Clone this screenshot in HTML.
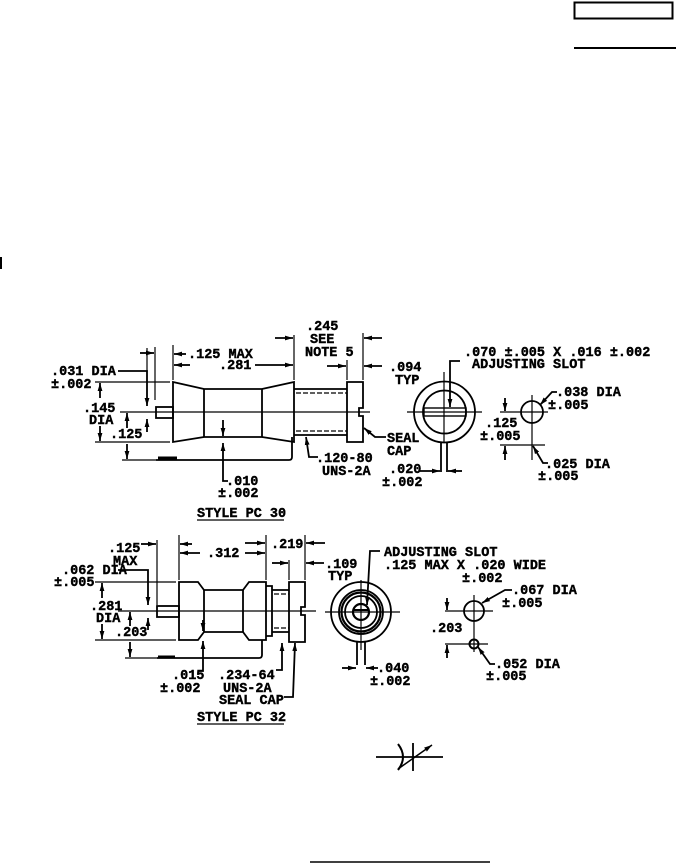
<!DOCTYPE html>
<html><head><meta charset="utf-8"><style>
html,body{margin:0;padding:0;background:#fff}
svg{display:block}
text{font-family:"Liberation Mono",monospace;font-weight:bold;font-size:13.5px;fill:#000;stroke:#000;stroke-width:0.4}
</style></head><body>
<svg width="676" height="864" viewBox="0 0 676 864" xmlns="http://www.w3.org/2000/svg">
<defs>
<marker id="a" viewBox="0 0 10 6" refX="10" refY="3" markerWidth="8" markerHeight="5" markerUnits="userSpaceOnUse" orient="auto"><path d="M0,0 L10,3 L0,6 z" fill="#000"/></marker>
</defs>
<g fill="none" stroke="#000" stroke-width="1.8">
<rect x="574.5" y="2.5" width="98" height="16" stroke-width="2"/>
<line x1="574" y1="48" x2="676" y2="48" stroke-width="2"/>
<line x1="1" y1="257" x2="1" y2="269" stroke-width="2"/>
<line x1="310" y1="862" x2="490" y2="862" stroke-width="1.5"/>

<!-- ===== PC30 side ===== -->
<line x1="120" y1="412" x2="370" y2="412" stroke-width="1.2"/>
<path d="M173,382 L204,389 L262,389 L294,382 L294,442 L262,437 L204,437 L173,442 Z"/>
<line x1="204" y1="389" x2="204" y2="437"/>
<line x1="262" y1="389" x2="262" y2="437"/>
<rect x="156" y="407" width="17" height="11"/>
<line x1="294" y1="389" x2="347" y2="389"/>
<line x1="294" y1="435" x2="347" y2="435"/>
<line x1="296" y1="393" x2="347" y2="393" stroke-dasharray="5,2" stroke-width="1.2"/>
<line x1="296" y1="431" x2="347" y2="431" stroke-dasharray="5,2" stroke-width="1.2"/>
<path d="M347,382 L363,382 L363,408 L359,408 L359,416 L363,416 L363,442 L347,442 Z"/>
<path d="M156,460 L289,460 Q292,460 292,457 L292,437"/>
<line x1="158" y1="458" x2="177" y2="458" stroke-width="3"/>
<line x1="95" y1="382" x2="170" y2="382" stroke-width="1.2"/>
<line x1="95" y1="442" x2="170" y2="442" stroke-width="1.2"/>
<line x1="100" y1="398" x2="100" y2="383" marker-end="url(#a)"/>
<line x1="100" y1="426" x2="100" y2="441" marker-end="url(#a)"/>
<line x1="122" y1="460" x2="156" y2="460" stroke-width="1.2"/>
<line x1="127" y1="428" x2="127" y2="413" marker-end="url(#a)"/>
<line x1="127" y1="444" x2="127" y2="459" marker-end="url(#a)"/>
<path d="M118,371 L147,371 L147,406" marker-end="url(#a)"/>
<line x1="147" y1="432" x2="147" y2="419" marker-end="url(#a)"/>
<line x1="147" y1="348" x2="147" y2="372" stroke-width="1.2"/>
<line x1="155" y1="347" x2="155" y2="400" stroke-width="1.2"/>
<line x1="140" y1="353" x2="154" y2="353" marker-end="url(#a)"/>
<line x1="173" y1="345" x2="173" y2="380" stroke-width="1.2"/>
<line x1="186" y1="354" x2="174" y2="354" marker-end="url(#a)"/>
<line x1="190" y1="365" x2="174" y2="365" marker-end="url(#a)"/>
<line x1="255" y1="365" x2="293" y2="365" marker-end="url(#a)"/>
<line x1="294" y1="335" x2="294" y2="380" stroke-width="1.2"/>
<line x1="363" y1="333" x2="363" y2="380" stroke-width="1.2"/>
<line x1="275" y1="338" x2="293" y2="338" marker-end="url(#a)"/>
<line x1="382" y1="338" x2="364" y2="338" marker-end="url(#a)"/>
<line x1="347" y1="360" x2="347" y2="380" stroke-width="1.2"/>
<line x1="327" y1="366" x2="346" y2="366" marker-end="url(#a)"/>
<line x1="382" y1="366" x2="364" y2="366" marker-end="url(#a)"/>
<path d="M386,437 L375,437 L364,428" marker-end="url(#a)"/>
<path d="M318,457 L309,457 L306,437" marker-end="url(#a)"/>
<line x1="223" y1="420" x2="223" y2="436" marker-end="url(#a)"/>
<path d="M228,481 L223,481 L223,443" marker-end="url(#a)"/>

<!-- PC30 end view -->
<circle cx="444.5" cy="412" r="30.5"/>
<circle cx="444.5" cy="412" r="21.5"/>
<line x1="407" y1="412" x2="482" y2="412" stroke-width="1.2"/>
<line x1="444" y1="372" x2="444" y2="442" stroke-width="1.2"/>
<rect x="424" y="408" width="42" height="8" stroke-width="1.4"/>
<line x1="441" y1="442" x2="441" y2="472"/>
<line x1="447" y1="442" x2="447" y2="472"/>
<path d="M460,361 L450,361 L450,407" marker-end="url(#a)"/>
<line x1="420" y1="471" x2="440" y2="471" marker-end="url(#a)"/>
<line x1="462" y1="471" x2="448" y2="471" marker-end="url(#a)"/>
<circle cx="532" cy="412" r="11"/>
<line x1="500" y1="412" x2="548" y2="412" stroke-width="1.2"/>
<line x1="500" y1="445" x2="545" y2="445" stroke-width="1.2"/>
<line x1="532" y1="395" x2="532" y2="460" stroke-width="1.2"/>
<line x1="505" y1="398" x2="505" y2="411" marker-end="url(#a)"/>
<line x1="505" y1="460" x2="505" y2="446" marker-end="url(#a)"/>
<path d="M557,392 L552,392 L540,405" marker-end="url(#a)"/>
<path d="M548,463 L543,463 L533,446" marker-end="url(#a)"/>

<!-- ===== PC32 side ===== -->
<line x1="118" y1="611" x2="316" y2="611" stroke-width="1.2"/>
<path d="M179,582 L198,582 L204,590 L243,590 L249,582 L266,582 L266,640 L249,640 L243,632 L204,632 L198,640 L179,640 Z"/>
<line x1="204" y1="590" x2="204" y2="632"/>
<line x1="243" y1="590" x2="243" y2="632"/>
<rect x="157" y="606" width="22" height="11"/>
<path d="M266,586 L272,586 L272,636 L266,636"/>
<line x1="272" y1="590" x2="289" y2="590"/>
<line x1="272" y1="632" x2="289" y2="632"/>
<line x1="274" y1="594" x2="289" y2="594" stroke-dasharray="5,2" stroke-width="1.2"/>
<line x1="274" y1="628" x2="289" y2="628" stroke-dasharray="5,2" stroke-width="1.2"/>
<path d="M289,582 L305,582 L305,607 L301,607 L301,615 L305,615 L305,642 L289,642 Z"/>
<path d="M157,658 L259,658 Q262,658 262,655 L262,640"/>
<line x1="158" y1="657" x2="175" y2="657" stroke-width="3"/>
<line x1="95" y1="582" x2="176" y2="582" stroke-width="1.2"/>
<line x1="95" y1="640" x2="176" y2="640" stroke-width="1.2"/>
<line x1="102" y1="598" x2="102" y2="583" marker-end="url(#a)"/>
<line x1="102" y1="624" x2="102" y2="639" marker-end="url(#a)"/>
<line x1="125" y1="658" x2="157" y2="658" stroke-width="1.2"/>
<line x1="130" y1="626" x2="130" y2="612" marker-end="url(#a)"/>
<line x1="130" y1="642" x2="130" y2="657" marker-end="url(#a)"/>
<path d="M118,570 L148,570 L148,605" marker-end="url(#a)"/>
<line x1="148" y1="630" x2="148" y2="618" marker-end="url(#a)"/>
<line x1="157" y1="540" x2="157" y2="605" stroke-width="1.2"/>
<line x1="179" y1="535" x2="179" y2="580" stroke-width="1.2"/>
<line x1="141" y1="544" x2="156" y2="544" marker-end="url(#a)"/>
<line x1="192" y1="544" x2="180" y2="544" marker-end="url(#a)"/>
<line x1="200" y1="553" x2="180" y2="553" marker-end="url(#a)"/>
<line x1="245" y1="553" x2="265" y2="553" marker-end="url(#a)"/>
<line x1="266" y1="535" x2="266" y2="580" stroke-width="1.2"/>
<line x1="305" y1="535" x2="305" y2="580" stroke-width="1.2"/>
<line x1="289" y1="560" x2="289" y2="580" stroke-width="1.2"/>
<line x1="245" y1="543" x2="265" y2="543" marker-end="url(#a)"/>
<line x1="325" y1="543" x2="306" y2="543" marker-end="url(#a)"/>
<line x1="272" y1="563" x2="288" y2="563" marker-end="url(#a)"/>
<line x1="324" y1="563" x2="306" y2="563" marker-end="url(#a)"/>
<line x1="203" y1="620" x2="203" y2="631" marker-end="url(#a)"/>
<path d="M199,671 L203,671 L203,641" marker-end="url(#a)"/>
<path d="M276,670 L282,670 L282,643" marker-end="url(#a)"/>
<path d="M284,697 L293,697 L295,643" marker-end="url(#a)"/>

<!-- PC32 end view -->
<circle cx="361" cy="612" r="30"/>
<circle cx="361" cy="612" r="22"/>
<circle cx="361" cy="612" r="19.5" stroke-width="2.2"/>
<circle cx="361" cy="612" r="16"/>
<circle cx="361" cy="612" r="8" stroke-width="2.2"/>
<line x1="325" y1="612" x2="400" y2="612" stroke-width="1.2"/>
<line x1="361" y1="580" x2="361" y2="650" stroke-width="1.2"/>
<line x1="353" y1="610" x2="368" y2="610" stroke-width="2"/>
<line x1="357" y1="641" x2="357" y2="665"/>
<line x1="365" y1="641" x2="365" y2="665"/>
<path d="M380,551 L370,551 L367,605" marker-end="url(#a)"/>
<line x1="342" y1="668" x2="356" y2="668" marker-end="url(#a)"/>
<line x1="378" y1="668" x2="366" y2="668" marker-end="url(#a)"/>
<circle cx="474" cy="611" r="10"/>
<circle cx="474" cy="644" r="4.5" stroke-width="2"/>
<line x1="445" y1="611" x2="493" y2="611" stroke-width="1.2"/>
<line x1="445" y1="644" x2="488" y2="644" stroke-width="1.2"/>
<line x1="474" y1="595" x2="474" y2="652" stroke-width="1.2"/>
<line x1="447" y1="598" x2="447" y2="610" marker-end="url(#a)"/>
<line x1="447" y1="658" x2="447" y2="645" marker-end="url(#a)"/>
<path d="M512,590 L505,590 L482,603" marker-end="url(#a)"/>
<path d="M495,664 L490,664 L478,647" marker-end="url(#a)"/>

<!-- symbol -->
<line x1="376" y1="757" x2="443" y2="757"/>
<line x1="413" y1="743" x2="413" y2="771"/>
<path d="M398,744 Q408,757 398,770" stroke-width="2"/>
<line x1="398" y1="769" x2="432" y2="745" stroke-width="1.5" marker-end="url(#a)"/>

<line x1="197" y1="520" x2="284" y2="520" stroke-width="1.2"/>
<line x1="197" y1="724" x2="284" y2="724" stroke-width="1.2"/>
</g>

<text x="51" y="375">.031 DIA</text>
<text x="51" y="388">±.002</text>
<text x="83" y="412">.145</text>
<text x="89" y="424">DIA</text>
<text x="110" y="438">.125</text>
<text x="188" y="358">.125 MAX</text>
<text x="219" y="369">.281</text>
<text x="306" y="330">.245</text>
<text x="310" y="343">SEE</text>
<text x="305" y="356">NOTE 5</text>
<text x="389" y="371">.094</text>
<text x="395" y="384">TYP</text>
<text x="387" y="442">SEAL</text>
<text x="387" y="455">CAP</text>
<text x="316" y="462">.120-80</text>
<text x="322" y="475">UNS-2A</text>
<text x="226" y="485">.010</text>
<text x="218" y="497">±.002</text>
<text x="389" y="473">.020</text>
<text x="382" y="486">±.002</text>
<text x="464" y="356">.070 ±.005 X .016 ±.002</text>
<text x="472" y="368">ADJUSTING SLOT</text>
<text x="556" y="396">.038 DIA</text>
<text x="548" y="409">±.005</text>
<text x="485" y="427">.125</text>
<text x="480" y="440">±.005</text>
<text x="545" y="468">.025 DIA</text>
<text x="538" y="480">±.005</text>
<text x="197" y="517">STYLE PC 30</text>

<text x="108" y="552">.125</text>
<text x="113" y="565">MAX</text>
<text x="62" y="574">.062 DIA</text>
<text x="54" y="586">±.005</text>
<text x="90" y="610">.281</text>
<text x="96" y="622">DIA</text>
<text x="115" y="636">.203</text>
<text x="207" y="557">.312</text>
<text x="271" y="548">.219</text>
<text x="325" y="568">.109</text>
<text x="328" y="580">TYP</text>
<text x="172" y="679">.015</text>
<text x="160" y="692">±.002</text>
<text x="218" y="679">.234-64</text>
<text x="223" y="692">UNS-2A</text>
<text x="219" y="704">SEAL CAP</text>
<text x="384" y="556">ADJUSTING SLOT</text>
<text x="384" y="569">.125 MAX X .020 WIDE</text>
<text x="462" y="582">±.002</text>
<text x="512" y="594">.067 DIA</text>
<text x="502" y="607">±.005</text>
<text x="430" y="632">.203</text>
<text x="495" y="668">.052 DIA</text>
<text x="486" y="680">±.005</text>
<text x="377" y="672">.040</text>
<text x="370" y="685">±.002</text>
<text x="197" y="721">STYLE PC 32</text>
</svg>
</body></html>
